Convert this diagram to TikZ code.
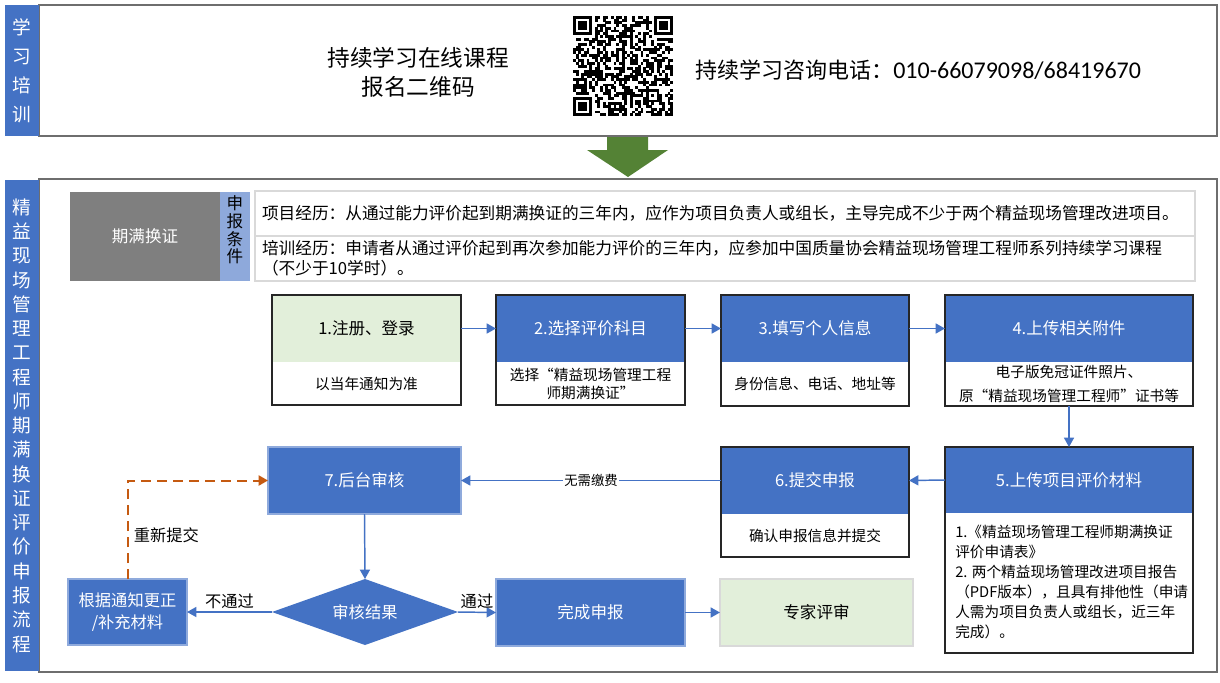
\documentclass[tikz,border=0pt]{standalone}
\usepackage{fontspec}
\setmainfont{Noto Sans CJK SC}
\newfontfamily\latfont{Carlito}
\usetikzlibrary{arrows.meta,shapes.geometric,calc}
\definecolor{cblue}{HTML}{4472C4}
\definecolor{cgreen}{HTML}{E2EFDA}
\definecolor{cgray}{HTML}{7F7F7F}
\definecolor{cstrip}{HTML}{8EA9DB}
\definecolor{corange}{HTML}{C55A11}
\definecolor{carrow}{HTML}{548235}
\definecolor{cframe}{HTML}{6E6E6E}
\definecolor{clight}{HTML}{8FAADC}
\definecolor{crow}{HTML}{D9D9D9}
\newcommand\myfs[2]{\fontsize{#1}{#2}\selectfont}
\begin{document}
\begin{tikzpicture}[x=0.75pt,y=-0.75pt,
  sz/.style 2 args={minimum width=#1*0.75pt,minimum height=#2*0.75pt},
  base/.style={anchor=north west,inner sep=0pt,outer sep=0pt,align=center},
  sidebar/.style={base,fill=cblue,text=white,font=\myfs{14pt}{21.75pt}},
  outerbox/.style={base,draw=cframe,line width=1.2pt,fill=white},
  bluetop/.style={base,fill=cblue,text=white,font=\myfs{12.4pt}{15pt}},
  greentop/.style={base,fill=cgreen,text=black,font=\myfs{12.4pt}{15pt}},
  subbox/.style={base,fill=white,text=black,font=\myfs{11pt}{15pt}},
  frameline/.style={draw=black!85,line width=0.8pt},
  blubox/.style={base,fill=cblue,draw=clight,line width=0.8pt,text=white,font=\myfs{12.2pt}{17pt}},
  rowbox/.style={base,draw=crow,line width=0.8pt,fill=white,align=left,inner xsep=7*0.75pt,font=\myfs{12.5pt}{15pt}},
  flow/.style={draw=cblue,line width=1.1pt,-{Triangle[length=7pt,width=7.5pt]}},
  dashflow/.style={draw=corange,line width=1.5pt,dash pattern=on 7.5pt off 4.5pt,-{Triangle[length=7pt,width=7.5pt]}},
  lbl/.style={font=\myfs{12.2pt}{15pt},text=black,inner sep=1pt}
]
\useasboundingbox (0,0) rectangle (1220,682);
\fill[white] (0,0) rectangle (1220,682);

% ---------- top section ----------
\node[outerbox,sz={1178}{131}] (topbox) at (39,5) {};
\node[sidebar,sz={34}{131}] (bar1) at (5,5) {学\\习\\培\\训};
\node[font=\myfs{17pt}{21.75pt},align=center,inner sep=0] (course) at (418,72) {持续学习在线课程\\报名二维码};
\node[anchor=west,inner sep=0,font=\myfs{16.5pt}{20pt}] (phone) at (695,70) {持续学习咨询电话：{\latfont\fontsize{18pt}{20pt}\selectfont 010-66079098/68419670}};

% QR code
\def\qm{2.7}
\pgfmathsetseed{20231}
\foreach \i in {0,...,36}{
  \foreach \j in {0,...,36}{
    \pgfmathtruncatemacro\qskip{((\i<8)&&(\j<8))||((\i>28)&&(\j<8))||((\i<8)&&(\j>28))||((\i>26)&&(\i<32)&&(\j>26)&&(\j<32))}
    \ifnum\qskip=0
      \pgfmathtruncatemacro\qbit{rnd<0.5}
      \ifnum\qbit=1
        \fill[black] (573+\i*\qm,16+\j*\qm) rectangle ++(\qm+0.2,\qm+0.2);
      \fi
    \fi
  }
}
\foreach \cx/\cy in {0/0,30/0,0/30}{
  \fill[black] (573+\cx*\qm,16+\cy*\qm) rectangle ++(7*\qm,7*\qm);
  \fill[white] (573+\cx*\qm+\qm,16+\cy*\qm+\qm) rectangle ++(5*\qm,5*\qm);
  \fill[black] (573+\cx*\qm+2*\qm,16+\cy*\qm+2*\qm) rectangle ++(3*\qm,3*\qm);
}
\fill[black] (573+27*\qm,16+27*\qm) rectangle ++(5*\qm,5*\qm);
\fill[white] (573+28*\qm,16+28*\qm) rectangle ++(3*\qm,3*\qm);
\fill[black] (573+29*\qm,16+29*\qm) rectangle ++(\qm,\qm);

% green block arrow
\fill[carrow] (607,137) -- (648,137) -- (648,150) -- (668,150) -- (628,177) -- (587,150) -- (607,150) -- cycle;

% ---------- bottom section ----------
\node[outerbox,sz={1178}{493}] (botbox) at (39,179) {};
\node[sidebar,sz={34}{491},font=\myfs{14pt}{18.2pt}] (bar2) at (5,180)
  {精\\益\\现\\场\\管\\理\\工\\程\\师\\期\\满\\换\\证\\评\\价\\申\\报\\流\\程};

% conditions
\node[base,fill=cgray,text=white,sz={150}{89},font=\myfs{12.4pt}{15pt}] (renew) at (70,192) {期满换证};
\node[base,fill=cstrip,sz={30}{89}] (cond) at (220,192) {};
\node[inner sep=0,align=center,font=\myfs{12.4pt}{13.2pt}] (condtxt) at (235,230) {申\\报\\条\\件};
\node[rowbox,sz={940}{45},text width=926*0.75pt] (row1) at (255,191)
  {项目经历：从通过能力评价起到期满换证的三年内，应作为项目负责人或组长，主导完成不少于两个精益现场管理改进项目。};
\node[rowbox,sz={940}{45},text width=926*0.75pt] (row2) at (255,236)
  {培训经历：申请者从通过评价起到再次参加能力评价的三年内，应参加中国质量协会精益现场管理工程师系列持续学习课程\\（不少于10学时）。};

% step 1
\node[greentop,sz={189}{67}] (b1t) at (272,295) {1.注册、登录};
\node[subbox,sz={189}{43}] (b1b) at (272,362) {以当年通知为准};
\draw[frameline] (b1t.north west) rectangle (b1b.south east);
% step 2
\node[bluetop,sz={189}{67}] (b2t) at (496,295) {2.选择评价科目};
\node[subbox,sz={189}{43},font=\myfs{11pt}{13.5pt}] (b2b) at (496,362) {选择“精益现场管理工程\\师期满换证”};
\draw[frameline] (b2t.north west) rectangle (b2b.south east);
% step 3
\node[bluetop,sz={188}{67}] (b3t) at (721,295) {3.填写个人信息};
\node[subbox,sz={188}{44}] (b3b) at (721,362) {身份信息、电话、地址等};
\draw[frameline] (b3t.north west) rectangle (b3b.south east);
% step 4
\node[bluetop,sz={248}{67}] (b4t) at (945,295) {4.上传相关附件};
\node[subbox,sz={248}{44},font=\myfs{11pt}{18pt}] (b4b) at (945,362) {电子版免冠证件照片、\\原“精益现场管理工程师”证书等};
\draw[frameline] (b4t.north west) rectangle (b4b.south east);
% step 5
\node[bluetop,sz={248}{66}] (b5t) at (945,447) {5.上传项目评价材料};
\node[subbox,sz={248}{140}] (b5b) at (945,513) {};
\draw[frameline] (b5t.north west) rectangle (b5b.south east);
\node[anchor=north west,inner sep=0,align=left,font=\myfs{11pt}{15pt}] (b5txt) at (955,525)
  {1.《精益现场管理工程师期满换证\\评价申请表》\\2. 两个精益现场管理改进项目报告\\（PDF版本），且具有排他性（申请\\人需为项目负责人或组长，近三年\\完成）。};
% step 6
\node[bluetop,sz={188}{67}] (b6t) at (721,447) {6.提交申报};
\node[subbox,sz={188}{43}] (b6b) at (721,514) {确认申报信息并提交};
\draw[frameline] (b6t.north west) rectangle (b6b.south east);
% step 7
\node[blubox,sz={193}{67},font=\myfs{12.4pt}{15pt}] (b7) at (268,447) {7.后台审核};
\node[diamond,aspect=2.8,fill=cblue,text=white,inner sep=0pt,outer sep=0pt,sz={186}{66},font=\myfs{12.2pt}{15pt}] (dia) at (365,612) {审核结果};
\node[blubox,sz={119}{66}] (fix) at (68,579) {根据通知更正\\/补充材料};
\node[blubox,sz={189}{67},font=\myfs{12.4pt}{15pt}] (done) at (496,579) {完成申报};
\node[base,fill=cgreen,draw=crow,line width=0.8pt,sz={193}{67},font=\myfs{12.4pt}{15pt}] (expert) at (720,579) {专家评审};

% connectors
\draw[flow] (b1t.east) -- (b2t.west);
\draw[flow] (b2t.east) -- (b3t.west);
\draw[flow] (b3t.east) -- (b4t.west);
\draw[flow] (b4b.south) -- (b5t.north);
\draw[flow] (b5t.west) -- (b6t.east);
\draw[flow] (b6t.west) -- node[fill=white,inner sep=1pt,font=\myfs{10pt}{12pt}] (fee) {无需缴费} (b7.east);
\draw[flow] (b7.south) -- (dia.north);
\draw[flow] (dia.west) -- node[above=1pt,lbl] (nopass) {不通过} (fix.east);
\draw[flow] (dia.east) -- node[above=1pt,lbl] (pass) {通过} (done.west);
\draw[flow] (done.east) -- (expert.west);
\draw[dashflow] (fix.north) |- node[pos=0.22,anchor=west,lbl,inner xsep=4pt] (resub) {重新提交} (b7.west);
\end{tikzpicture}
\end{document}
